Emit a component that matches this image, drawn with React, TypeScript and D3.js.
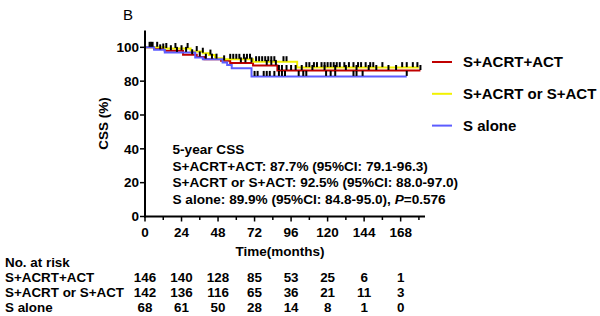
import React from "react";
import * as d3 from "d3";

// ---- Data ----
const groups = ["S+ACRT+ACT", "S+ACRT or S+ACT", "S alone"];
const groupColors = ["#c00000", "#f2f200", "#5c5cff"];

// step curves: [time(months), survival %]
const redSteps: [number, number][] = [
  [0, 100], [6, 99], [13, 98], [25, 95.6], [34, 94.3], [39, 93], [50, 92], [56, 90.8], [71, 89.3], [87, 86.3],
];
const redEnd = 181;
const yellowSteps: [number, number][] = [
  [0, 100], [13, 99.3], [30, 97.5], [38, 96.5], [42, 95.4], [46, 93.5], [51, 92.9], [71, 91.5], [100, 88],
];
const yellowEnd = 180;
const blueSteps: [number, number][] = [
  [0, 100], [6, 98.5], [13, 97], [33, 94], [38, 93], [51, 91], [54, 89.5], [57, 87.6], [70, 82.8],
];
const blueEnd = 172;

const redCensor = [5, 12, 17, 24, 31, 36, 40, 44, 47, 52, 63, 66, 70, 80, 83, 86, 88, 90, 93, 96, 99, 103, 110, 118, 125, 132, 139, 147, 152, 160, 165, 181];
const yellowCensor = [3, 8, 14, 20, 28, 34, 38, 43, 56, 58, 60, 62, 65, 67, 69, 73, 75, 77, 79, 81, 83, 85, 91, 93, 106, 108, 111, 113, 116, 118, 120, 122, 124, 126, 128, 131, 134, 137, 140, 142, 145, 148, 150, 156, 169, 172, 176, 179];
const blueCensor = [4, 10, 21, 27, 72, 74, 78, 80, 82, 85, 88, 90, 92, 101, 104, 106, 119, 122, 125, 137, 139, 143, 172];

const xTicks = [0, 24, 48, 72, 96, 120, 144, 168];
const xMinorTicks = [12, 36, 60, 84, 108, 132, 156, 180];
const yTicks = [0, 20, 40, 60, 80, 100];

const riskTimes = [0, 24, 48, 72, 96, 120, 144, 168];
const riskRed = [146, 140, 128, 85, 53, 25, 6, 1];
const riskYellow = [142, 136, 116, 65, 36, 21, 11, 3];
const riskBlue = [68, 61, 50, 28, 14, 8, 1, 0];

const annotation = [
  "5-year CSS",
  "S+ACRT+ACT: 87.7% (95%CI: 79.1-96.3)",
  "S+ACRT or S+ACT: 92.5% (95%CI: 88.0-97.0)",
];
const annotationLast = "S alone: 89.9% (95%CI: 84.8-95.0), ";

const FONT = "'Liberation Sans', Arial, sans-serif";

export default function App() {
  const x = d3.scaleLinear().domain([0, 184]).range([145, 425]);
  const y = d3.scaleLinear().domain([0, 110]).range([216.5, 30.4]);

  const line = d3
    .line<[number, number]>()
    .x((d) => x(d[0]))
    .y((d) => y(d[1]))
    .curve(d3.curveStepAfter);

  const curves = [
    { steps: redSteps, end: redEnd, censor: redCensor, color: groupColors[0] },
    { steps: yellowSteps, end: yellowEnd, censor: yellowCensor, color: groupColors[1] },
    { steps: blueSteps, end: blueEnd, censor: blueCensor, color: groupColors[2] },
  ];

  const survAt = (steps: [number, number][], t: number) => {
    let s = steps[0][1];
    for (const st of steps) if (st[0] <= t) s = st[1];
    return s;
  };

  const risks = [riskRed, riskYellow, riskBlue];
  const riskY = [281.7, 297, 312.2];

  return (
    <svg
      width={600}
      height={316}
      style={{ position: "absolute", left: 0, top: 0, background: "#fff" }}
      fontFamily={FONT}
    >
      <rect width={600} height={316} fill="#fff" />
      <text x={123} y={20} fontSize={15} fill="#000">B</text>

      {/* curves */}
      {curves.map((c, i) => {
        const pts: [number, number][] = [...c.steps, [c.end, c.steps[c.steps.length - 1][1]]];
        return <path key={i} d={line(pts) || ""} fill="none" stroke={c.color} strokeWidth={2} />;
      })}
      {/* censor marks */}
      {curves.map((c, i) =>
        c.censor.map((t, j) => {
          const s = survAt(c.steps, t);
          return (
            <line key={`${i}-${j}`} x1={x(t)} x2={x(t)} y1={y(s) - 0.5} y2={y(s) - 5.5} stroke="#000" strokeWidth={2} />
          );
        })
      )}

      {/* y axis */}
      <line x1={x(0)} x2={x(0)} y1={y(0) + 1} y2={y(110)} stroke="#000" strokeWidth={2} />
      {yTicks.map((t) => (
        <g key={t}>
          <line x1={x(0) - 5} x2={x(0)} y1={y(t)} y2={y(t)} stroke="#000" strokeWidth={1.5} />
          <text x={x(0) - 6} y={y(t) + 4.8} textAnchor="end" fontSize={13.5} fontWeight="bold">{t}</text>
        </g>
      ))}
      {/* x axis */}
      <line x1={x(0) - 1} x2={x(184)} y1={y(0)} y2={y(0)} stroke="#000" strokeWidth={2} />
      {xTicks.map((t) => (
        <g key={t}>
          <line x1={x(t)} x2={x(t)} y1={y(0)} y2={y(0) + 5} stroke="#000" strokeWidth={1.5} />
          <text x={x(t)} y={236.5} textAnchor="middle" fontSize={13.5} fontWeight="bold">{t}</text>
        </g>
      ))}
      {xMinorTicks.map((t) => (
        <line key={t} x1={x(t)} x2={x(t)} y1={y(0)} y2={y(0) + 3.5} stroke="#000" strokeWidth={1.5} />
      ))}
      <text x={280} y={255.5} textAnchor="middle" fontSize={13.5} fontWeight="bold">Time(months)</text>
      <text
        transform={`translate(108, ${(y(0) + y(110)) / 2}) rotate(-90)`}
        textAnchor="middle"
        fontSize={13.5}
        fontWeight="bold"
      >
        CSS (%)
      </text>

      {/* annotation */}
      {annotation.map((a, i) => (
        <text key={i} x={172.5} y={154 + i * 16.7} fontSize={13.6} fontWeight="bold">{a}</text>
      ))}
      <text x={172.5} y={154 + 3 * 16.7} fontSize={13.6} fontWeight="bold">
        {annotationLast}
        <tspan fontStyle="italic">P</tspan>=0.576
      </text>

      {/* legend */}
      {groups.map((g, i) => (
        <g key={g}>
          <line x1={432} x2={452} y1={62 + i * 31.8} y2={62 + i * 31.8} stroke={groupColors[i]} strokeWidth={2} />
          <text x={463} y={62 + i * 31.8 + 5.3} fontSize={15} fontWeight="bold">{g}</text>
        </g>
      ))}

      {/* risk table */}
      <text x={5} y={266.5} fontSize={13.4} fontWeight="bold">No. at risk</text>
      {groups.map((g, i) => (
        <g key={g}>
          <text x={5} y={riskY[i]} fontSize={13.4} fontWeight="bold">{g}</text>
          {risks[i].map((v, j) => (
            <text key={j} x={x(riskTimes[j])} y={riskY[i]} textAnchor="middle" fontSize={13.4} fontWeight="bold">
              {v}
            </text>
          ))}
        </g>
      ))}
    </svg>
  );
}
